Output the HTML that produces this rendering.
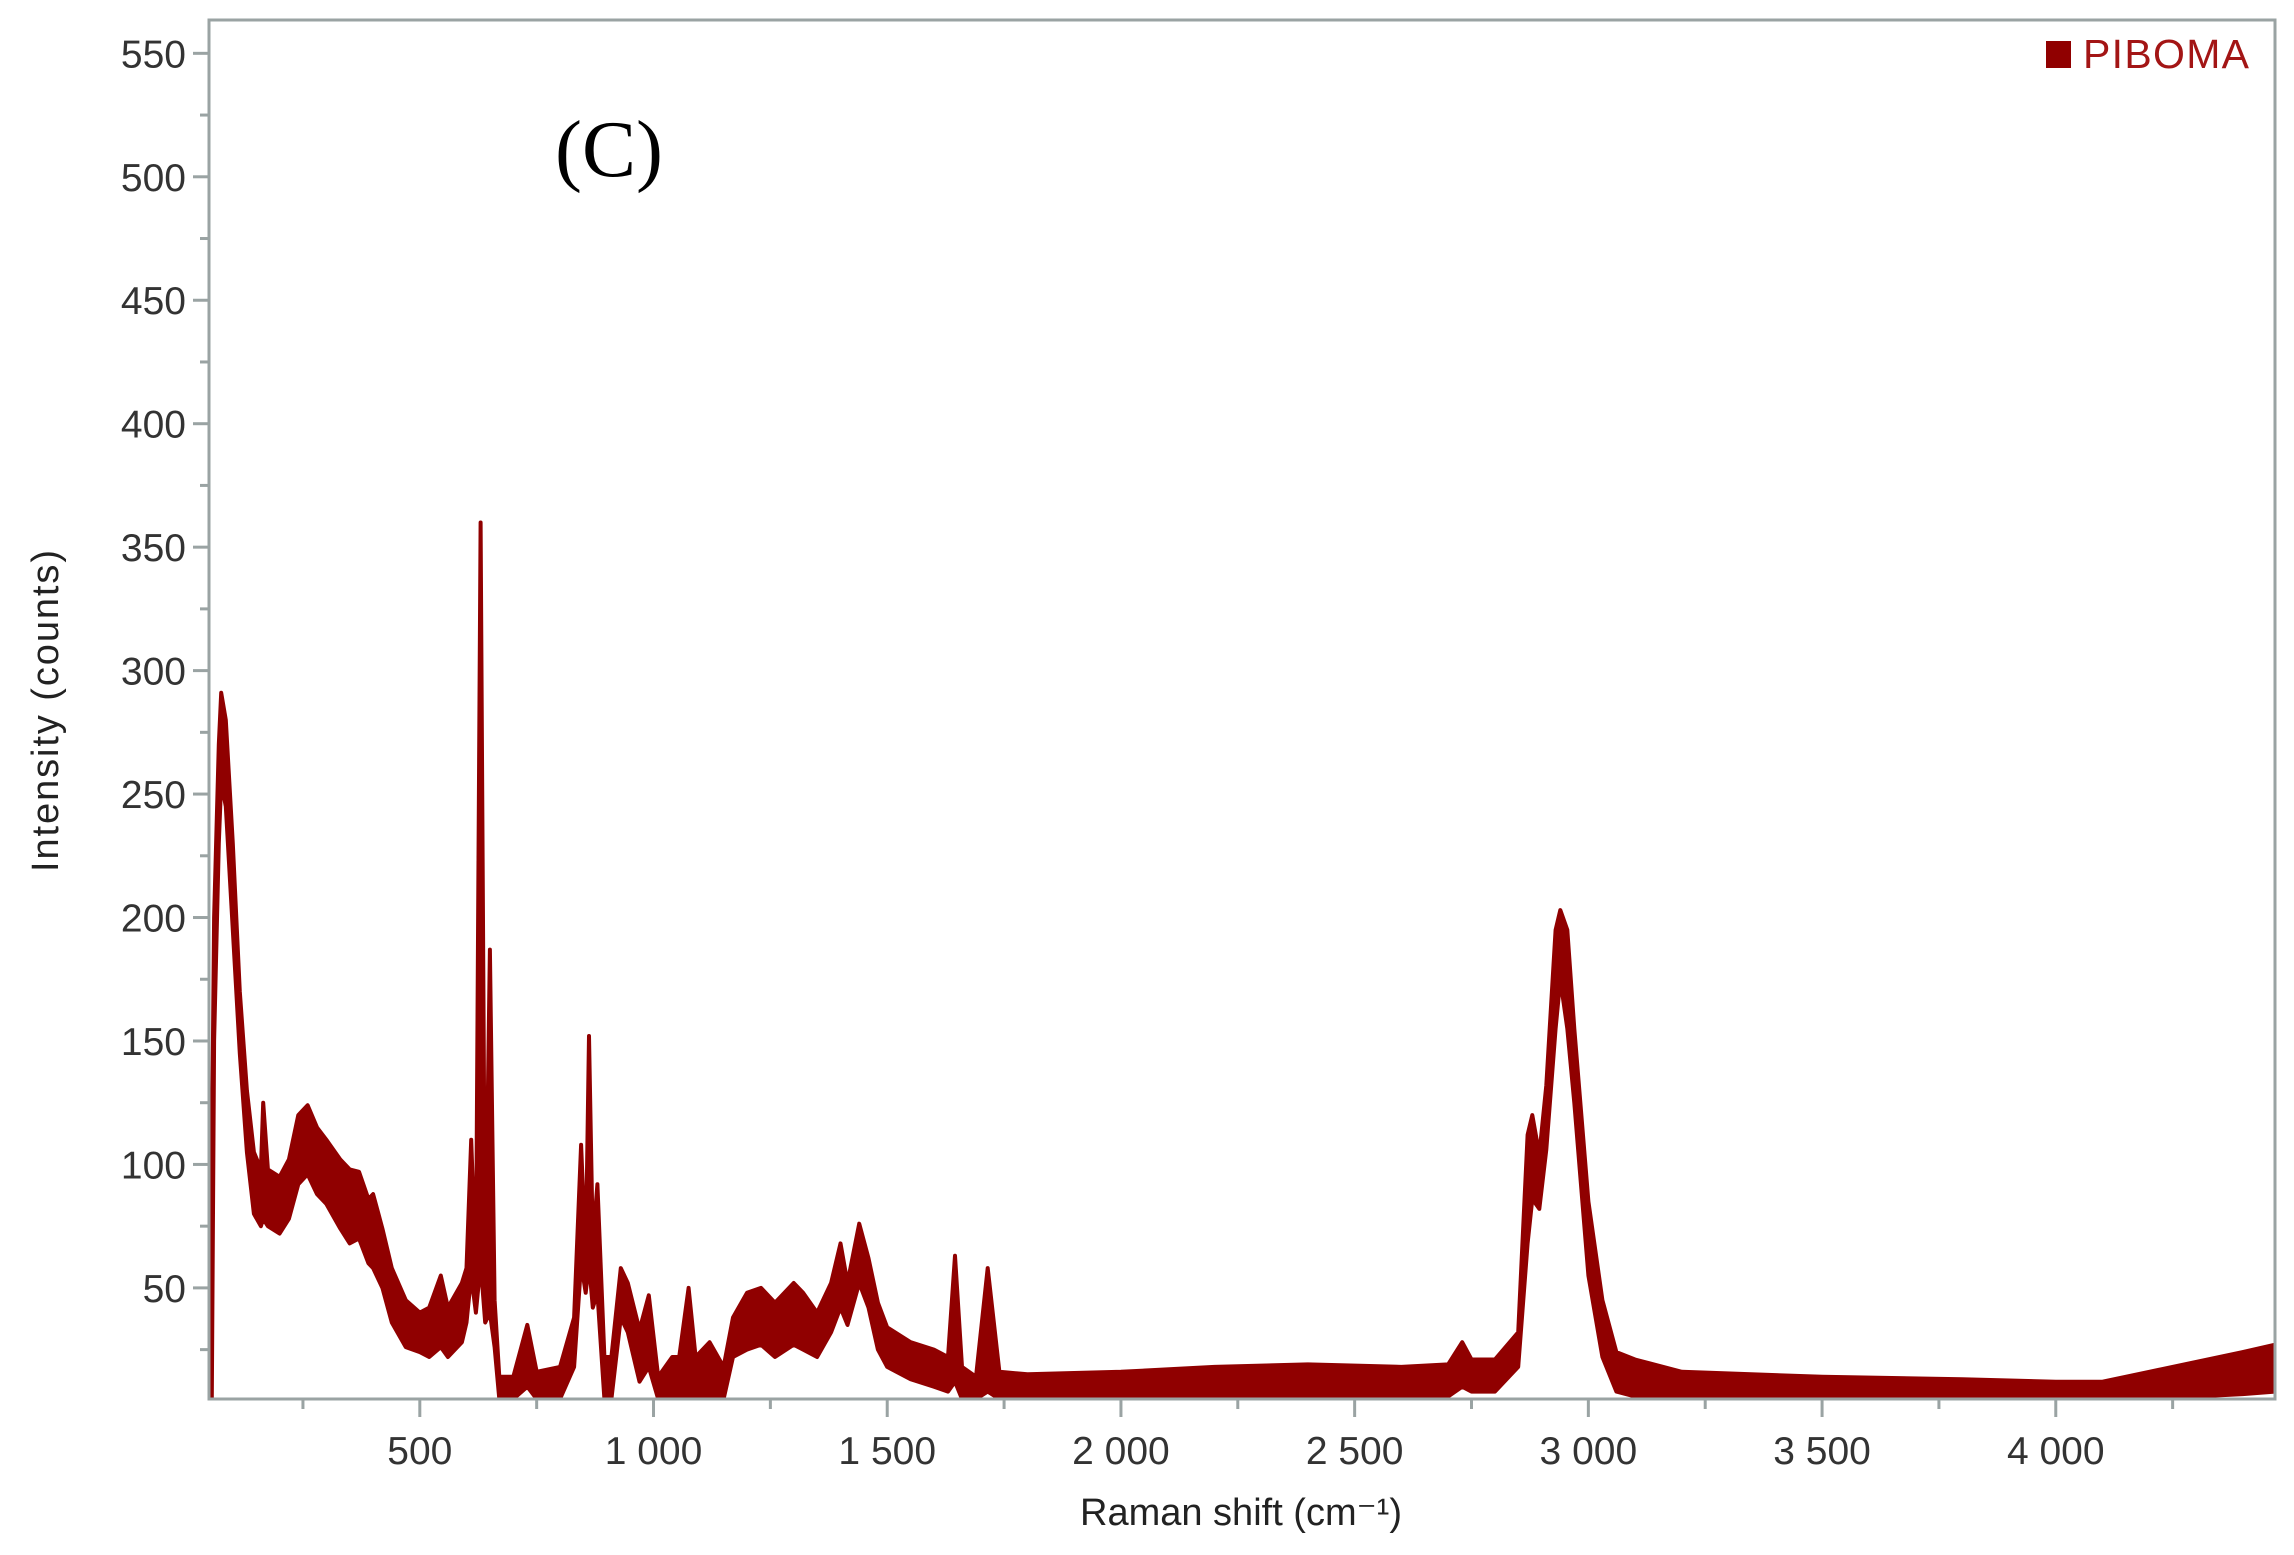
<!DOCTYPE html>
<html><head><meta charset="utf-8"><style>
html,body{margin:0;padding:0;background:#fff;}
svg{display:block;}
text{font-family:"Liberation Sans",sans-serif;}
</style></head><body>
<svg id="chart" width="2294" height="1555" viewBox="0 0 2294 1555" xmlns="http://www.w3.org/2000/svg">
<rect x="0" y="0" width="2294" height="1555" fill="#fff"/>
<defs><clipPath id="plotclip"><rect x="209" y="20" width="2066" height="1379"/></clipPath></defs>
<g id="grid-ticks"></g>
<g id="series" clip-path="url(#plotclip)"></g>
<rect x="209" y="20" width="2066" height="1379" fill="none" stroke="#9aa3a3" stroke-width="3"/>
<g id="labels"></g>
<text x="555" y="176" font-size="81" style="font-family:'Liberation Serif',serif" fill="#000">(C)</text>
<rect x="2046" y="41" width="25" height="27" fill="#900000"/>
<text x="2083" y="68" font-size="41" textLength="166" fill="#a31515">PIBOMA</text>
<text transform="translate(58,711) rotate(-90)" text-anchor="middle" font-size="38" textLength="322" fill="#222">Intensity (counts)</text>
<text x="1241" y="1525" text-anchor="middle" font-size="38" fill="#222">Raman shift (cm⁻¹)</text>
</svg>
<script>
const xs   = [50,55,60,70,75,85,100,115,130,145,160,165,175,200,220,240,260,280,300,330,350,370,390,400,420,440,470,500,520,545,560,590,600,610,620,630,640,650,660,670,700,730,750,800,830,845,855,862,870,880,895,910,930,945,970,990,1010,1040,1055,1075,1090,1120,1150,1170,1200,1230,1260,1300,1320,1350,1380,1400,1415,1440,1460,1480,1500,1550,1600,1630,1645,1660,1690,1715,1740,1800,2000,2200,2400,2600,2700,2730,2750,2800,2850,2870,2880,2895,2910,2930,2940,2955,2970,3000,3030,3060,3100,3200,3500,3800,4000,4100,4200,4300,4400,4469];
const upper= [5,100,200,270,291,280,230,170,130,105,98,125,98,95,102,120,124,115,110,102,98,97,86,88,74,58,45,40,42,55,42,52,58,110,55,360,50,187,45,14,14,35,16,18,38,108,62,152,68,92,22,22,58,52,33,47,14,22,22,50,22,28,18,38,48,50,44,52,48,40,52,68,52,76,62,44,34,28,25,22,63,18,14,58,16,15,16,18,19,18,19,28,21,21,32,112,120,104,132,195,203,195,155,85,45,24,21,16,14,13,12,12,16,20,24,27];
const lower= [5,5,150,230,255,245,195,145,105,80,75,78,75,72,78,92,96,88,84,74,68,70,60,58,50,36,26,24,22,26,22,28,36,55,40,60,36,40,26,5,5,10,5,5,18,60,48,60,42,48,5,5,38,32,12,18,5,5,5,5,5,5,5,22,25,27,22,27,25,22,32,42,35,52,42,25,18,13,10,8,12,5,5,8,5,5,5,5,6,6,6,10,8,8,18,68,86,82,106,155,175,155,125,55,22,8,6,5,5,4,4,4,5,6,7,8];
const yTicks = [50,100,150,200,250,300,350,400,450,500,550];
const yTickLabels = ["50","100","150","200","250","300","350","400","450","500","550"];
const xTicks = [500,1000,1500,2000,2500,3000,3500,4000];
const xTickLabels = ["500","1 000","1 500","2 000","2 500","3 000","3 500","4 000"];

const X0=209,X1=2275,Y0=20,Y1=1399, XMIN=49, XMAX=4469, YMIN=5, YMAX=563.5;
function sx(v){return X0+(v-XMIN)/(XMAX-XMIN)*(X1-X0);}
function sy(v){return Y1-(v-YMIN)/(YMAX-YMIN)*(Y1-Y0);}
const NS='http://www.w3.org/2000/svg';
const tg=document.getElementById('grid-ticks');
const lg=document.getElementById('labels');
function mk(tag,attrs,parent){const e=document.createElementNS(NS,tag);for(const k in attrs)e.setAttribute(k,attrs[k]);parent.appendChild(e);return e;}

for(let v=25; v<=550; v+=25){
  const major = v%50===0;
  const t=mk('line',{x1:X0-(major?16:9),x2:X0,y1:sy(v),y2:sy(v),stroke:'#9aa3a3','stroke-width':3},tg);
  
  
}
yTicks.forEach((v,i)=>{
  const t=mk('text',{x:186,y:sy(v)+14,'text-anchor':'end','font-size':39,fill:'#333'},lg);
  t.textContent=yTickLabels[i];
  
  
});
for(let v=250; v<=4250; v+=250){
  const major = v%500===0;
  const t=mk('line',{x1:sx(v),x2:sx(v),y1:Y1,y2:Y1+(major?18:10),stroke:'#9aa3a3','stroke-width':3},tg);
  
  
}
xTicks.forEach((v,i)=>{
  const t=mk('text',{x:sx(v),y:1464,'text-anchor':'middle','font-size':39,fill:'#333'},lg);
  t.textContent=xTickLabels[i];
  
  
});
const sg=document.getElementById('series');
let d='';
xs.forEach((x,i)=>{d+=(i?'L':'M')+sx(x).toFixed(1)+','+sy(upper[i]).toFixed(1);});
for(let i=xs.length-1;i>=0;i--){d+='L'+sx(xs[i]).toFixed(1)+','+sy(lower[i]).toFixed(1);}
d+='Z';
const band=mk('path',{d:d,fill:'#900000',stroke:'#900000','stroke-width':4,'stroke-linejoin':'round'},sg);


</script>
</body></html>
